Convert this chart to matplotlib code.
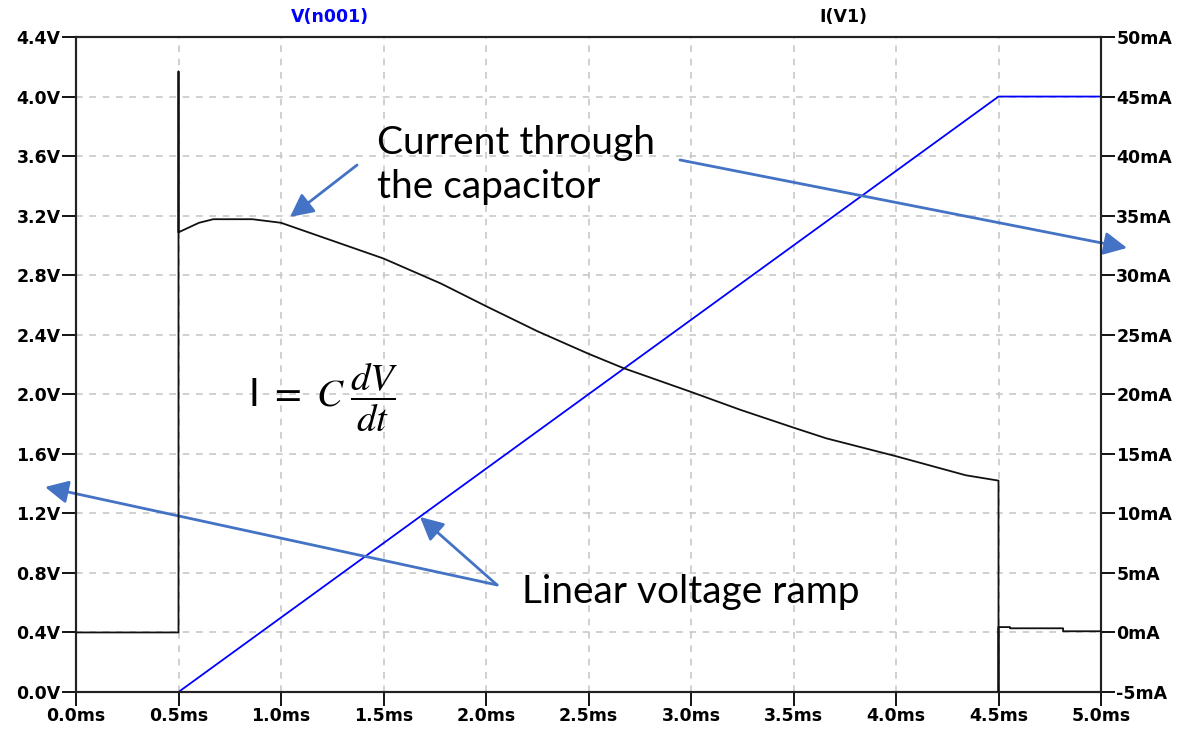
import matplotlib
matplotlib.use("Agg")
from matplotlib import pyplot as plt

# voltage ramp V(n001), left axis
t_v = [0.0, 0.5, 4.5, 5.0]
v_n001 = [0.0, 0.0, 4.0, 4.0]

# current I(V1), right axis (mA)
t_i = [0.0, 0.5, 0.5, 0.5, 0.55, 0.6, 0.67, 0.86, 1.0, 1.2, 1.5, 1.78, 2.0, 2.25,
       2.5, 2.67, 3.0, 3.24, 3.5, 3.66, 4.0, 4.34, 4.5, 4.5, 4.5, 4.556, 4.556,
       4.815, 4.815, 5.0]
i_v1 = [0.0, 0.0, 47.1, 33.6, 34.0, 34.4, 34.7, 34.7, 34.4, 33.2, 31.4, 29.3, 27.4,
        25.3, 23.4, 22.2, 20.2, 18.7, 17.2, 16.3, 14.8, 13.2, 12.75, -5.0, 0.45,
        0.45, 0.35, 0.35, 0.1, 0.1]

x_ticks = [0.0, 0.5, 1.0, 1.5, 2.0, 2.5, 3.0, 3.5, 4.0, 4.5, 5.0]
x_labels = ["0.0ms", "0.5ms", "1.0ms", "1.5ms", "2.0ms", "2.5ms", "3.0ms",
            "3.5ms", "4.0ms", "4.5ms", "5.0ms"]
v_ticks = [0.0, 0.4, 0.8, 1.2, 1.6, 2.0, 2.4, 2.8, 3.2, 3.6, 4.0, 4.4]
v_labels = ["0.0V", "0.4V", "0.8V", "1.2V", "1.6V", "2.0V", "2.4V", "2.8V",
            "3.2V", "3.6V", "4.0V", "4.4V"]
i_ticks = [-5, 0, 5, 10, 15, 20, 25, 30, 35, 40, 45, 50]
i_labels = ["-5mA", "0mA", "5mA", "10mA", "15mA", "20mA", "25mA", "30mA",
            "35mA", "40mA", "45mA", "50mA"]

arrow_col = "#4472C4"
tick_font = dict(family="DejaVu Sans", weight="bold", size=12.5)

plt.rcParams["mathtext.fontset"] = "stix"

fig = plt.figure(figsize=(11.84, 7.32), dpi=100)
ax = fig.add_axes([76 / 1184, 40 / 732, 1025 / 1184, 655 / 732])
ax2 = ax.twinx()

ax.plot(t_v, v_n001, color="#0000ff", lw=1.3, zorder=3)
ax2.plot(t_i, i_v1, color="#111111", lw=1.3, zorder=3)

ax.set_xlim(0, 5)
ax.set_ylim(0, 4.4)
ax2.set_ylim(-5, 50)

ax.set_xticks(x_ticks)
ax.set_xticklabels(x_labels, **tick_font)
ax.set_yticks(v_ticks)
ax.set_yticklabels(v_labels, **tick_font)
ax2.set_yticks(i_ticks)
ax2.set_yticklabels(i_labels, **tick_font)

for a in (ax, ax2):
    a.tick_params(direction="out", length=10, width=1.3, pad=1, colors="black")
    for s in a.spines.values():
        s.set_linewidth(1.5)
        s.set_color("#222222")

ax.grid(True, color="#c8c8c8", linestyle=(0, (4, 4)), linewidth=1.2)
ax.set_axisbelow(True)

fig.text(330 / 1184, 1 - 17 / 732, "V(n001)", color="#0000ff", ha="center",
         va="center", **tick_font)
fig.text(843 / 1184, 1 - 17 / 732, "I(V1)", color="black", ha="center",
         va="center", **tick_font)

# annotations
label_font = dict(family="Lato", size=28, color="black")
ax.text(1.468, 3.54, "Current through\nthe capacitor", ha="left", va="center",
        linespacing=1.3, **label_font)
ax.text(2.176, 0.672, "Linear voltage ramp", ha="left", va="center", **label_font)

fig.text(248 / 1184, 1 - 397 / 732, r"I $=$ $C\;\dfrac{dV}{dt}$", ha="left",
         va="center", family="Lato", size=28)

arrows = [
    ((1.044, 3.191), (1.371, 3.540)),
    ((5.127, 2.983), (2.946, 3.574)),
    ((-0.151, 1.377), (2.054, 0.719)),
    ((1.678, 1.176), (2.054, 0.719)),
]
for tip, tail in arrows:
    ax.annotate("", xy=tip, xytext=tail, annotation_clip=False,
                arrowprops=dict(arrowstyle="-|>,head_length=0.7,head_width=0.35",
                                color=arrow_col, lw=2, mutation_scale=20,
                                shrinkA=0, shrinkB=0), zorder=5)

fig.savefig("out.png", dpi=100)
